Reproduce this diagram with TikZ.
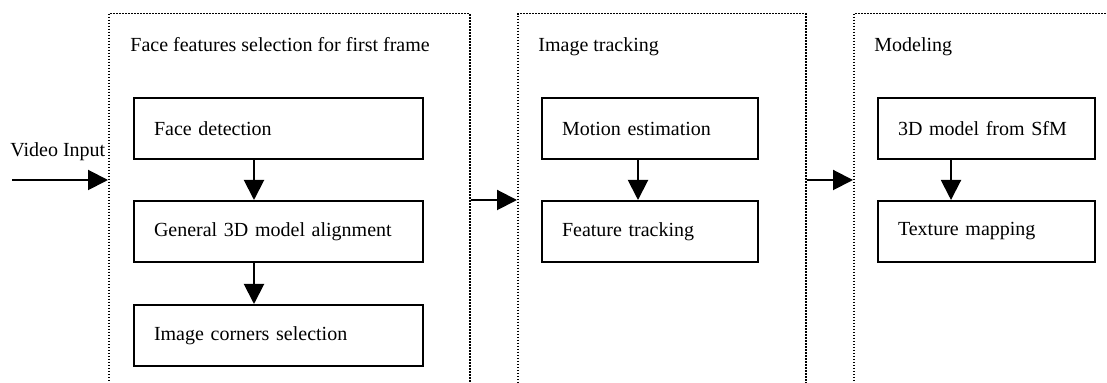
\documentclass[tikz,border=0pt]{standalone}
\usepackage{fontspec}
\setmainfont{Liberation Serif}
\usetikzlibrary{arrows.meta}
\tikzset{>={Triangle[length=10pt,width=10pt]}}
\tikzstyle{group}=[draw,line width=0.75pt,dash pattern=on 0.75pt off 0.75pt,anchor=north west,minimum height=200pt,inner sep=0]
\tikzstyle{block}=[draw,line width=1pt,anchor=north west,minimum height=30.5pt,inner xsep=10pt,inner ysep=0,align=left]
\tikzstyle{flow}=[->,line width=1pt]

\begin{document}
\begin{tikzpicture}[x=0.5pt,y=-0.5pt]
  \useasboundingbox (0,0) rectangle (1107,383);
  \clip (0,0) rectangle (1107,383);

  % GROUPS
  \node[group,minimum width=180.5pt] (g1) at (108,13) {};
  \node[group,minimum width=144pt] (g2) at (517,13) {};
  \node[group,minimum width=200pt] (g3) at (853,13) {};
  \node[anchor=base west,inner sep=0] (t1) at (130,52) {Face features selection for first frame};
  \node[anchor=base west,inner sep=0] (t2) at (538,52) {Image tracking};
  \node[anchor=base west,inner sep=0] (t3) at (874,52) {Modeling};

  % BLOCKS
  \node[block,text width=124.5pt] (fd) at (133,97) {Face detection};
  \node[block,text width=124.5pt] (ga) at (133,200) {General 3D model alignment};
  \node[block,text width=124.5pt] (ic) at (133,304) {Image corners selection};
  \node[block,text width=88pt] (me) at (541,97) {Motion estimation};
  \node[block,text width=88pt] (ft) at (541,200) {Feature tracking};
  \node[block,text width=88.5pt] (sfm) at (877,97) {3D model from SfM};
  \node[block,text width=88.5pt] (tm) at (877,200) {Texture mapping};

  % ARROWS
  \draw[flow] ([xshift=-12.25pt]fd.south) -- ([xshift=-12.25pt]ga.north);
  \draw[flow] ([xshift=-12.25pt]ga.south) -- ([xshift=-12.25pt]ic.north);
  \draw[flow] ([xshift=-6pt]me.south) -- ([xshift=-6pt]ft.north);
  \draw[flow] ([xshift=-17.75pt]sfm.south) -- ([xshift=-17.75pt]tm.north);

  \coordinate (vin) at (12,180);
  \draw[flow] (vin) -- (vin -| g1.west);
  \node[anchor=base west,inner sep=0] (vl) at (10,157) {Video Input};
  \draw[flow] (g1.east |- ga.north) -- (g2.west |- ga.north);
  \draw[flow] (g2.east |- vin) -- (g3.west |- vin);
\end{tikzpicture}
\end{document}
